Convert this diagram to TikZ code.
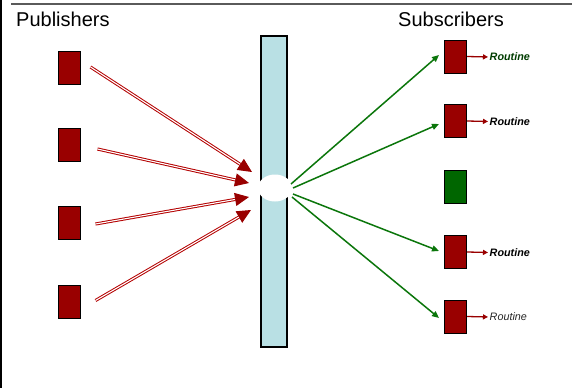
\documentclass[tikz,border=0pt]{standalone}
\usepackage{fontspec}
\setmainfont{Liberation Sans}
\usetikzlibrary{arrows.meta,shapes.geometric}
\definecolor{boxred}{HTML}{990000}
\definecolor{linkred}{HTML}{B40000}
\definecolor{subgreen}{HTML}{006600}
\definecolor{flowgreen}{HTML}{0B760B}
\definecolor{busblue}{HTML}{B9E0E4}
\definecolor{rulegray}{HTML}{5A5A5A}
\begin{document}
\begin{tikzpicture}[x=1pt,y=-1pt,
  proc/.style={draw=black,line width=1pt,fill=boxred,minimum width=22pt,minimum height=33pt,inner sep=0pt},
  heading/.style={anchor=base west,inner sep=0pt,font=\fontsize{20}{24}\selectfont},
  routine/.style={anchor=west,inner sep=0.5pt,font=\fontsize{10.8}{12}\selectfont\bfseries\itshape},
  pubarrow/.style={draw=linkred,line width=1pt,double=white,double distance=1.1pt,
    -{Triangle[length=14pt,width=13pt,color=boxred,fill=boxred]}},
  subarrow/.style={draw=flowgreen,line width=1.5pt,-{Triangle[length=7pt,width=6pt]}},
  callarrow/.style={draw=boxred,line width=1.3pt,-{Triangle[length=5pt,width=5pt]},shorten >=1pt}
]
\useasboundingbox (0,0) rectangle (584,388);
\fill[white] (0,0) rectangle (584,388);

% frame rules
\draw[black,line width=2pt] (1,0) -- (1,388);
\draw[rulegray,line width=1.5pt] (11,4) -- (572,4);

% headings
\node[heading] (pubtitle) at (16,27) {Publishers};
\node[heading] (subtitle) at (398,27) {Subscribers};

% message bus with its opening
\node[draw=black,line width=1.3pt,fill=busblue,minimum width=26pt,minimum height=311pt,inner sep=0pt] (bus) at (274,191.5) {};
\node[ellipse,fill=white,minimum width=34pt,minimum height=27pt,inner sep=0pt] (hole) at (275,188) {};

% publishers
\node[proc] (pub1) at (69,68) {};
\node[proc] (pub2) at (69,145) {};
\node[proc] (pub3) at (69,223) {};
\node[proc] (pub4) at (69,301.5) {};

% subscribers
\node[proc] (sub1) at (455.5,56.5) {};
\node[proc] (sub2) at (455.5,121) {};
\node[proc,fill=subgreen] (sub3) at (455.5,187) {};
\node[proc] (sub4) at (455.5,252) {};
\node[proc] (sub5) at (455.5,316.5) {};

% routines
\node[routine,text=subgreen!60!black] (r1) at (489,57) {Routine};
\node[routine] (r2) at (489,121.5) {Routine};
\node[routine] (r4) at (489,252.5) {Routine};
\node[routine,font=\fontsize{10.8}{12}\selectfont\itshape,text=black!85] (r5) at (489,317) {Routine};

% published messages into the bus
\draw[pubarrow] ([shift={(10,-1)}]pub1.east) -- ([shift={(-23,-16)}]hole.center);
\draw[pubarrow] ([shift={(17,4)}]pub2.east) -- ([shift={(-26,-5)}]hole.center);
\draw[pubarrow] ([shift={(15,1)}]pub3.east) -- ([shift={(-26,9)}]hole.center);
\draw[pubarrow] ([shift={(15,-1)}]pub4.east) -- ([shift={(-24,22)}]hole.center);

% deliveries to subscribers
\draw[subarrow] ([shift={(16,-4)}]hole.center) -- ([shift={(-5,-1.5)}]sub1.west);
\draw[subarrow] ([shift={(18,0)}]hole.center) -- ([shift={(-5,3)}]sub2.west);
\draw[subarrow] ([shift={(18,6)}]hole.center) -- ([shift={(-5,-1)}]sub4.west);
\draw[subarrow] ([shift={(17,9)}]hole.center) -- ([shift={(-5,1.5)}]sub5.west);

% subscriber callbacks
\draw[callarrow] (sub1.east) -- (r1.west);
\draw[callarrow] (sub2.east) -- (r2.west);
\draw[callarrow] (sub4.east) -- (r4.west);
\draw[callarrow] (sub5.east) -- (r5.west);
\end{tikzpicture}
\end{document}
